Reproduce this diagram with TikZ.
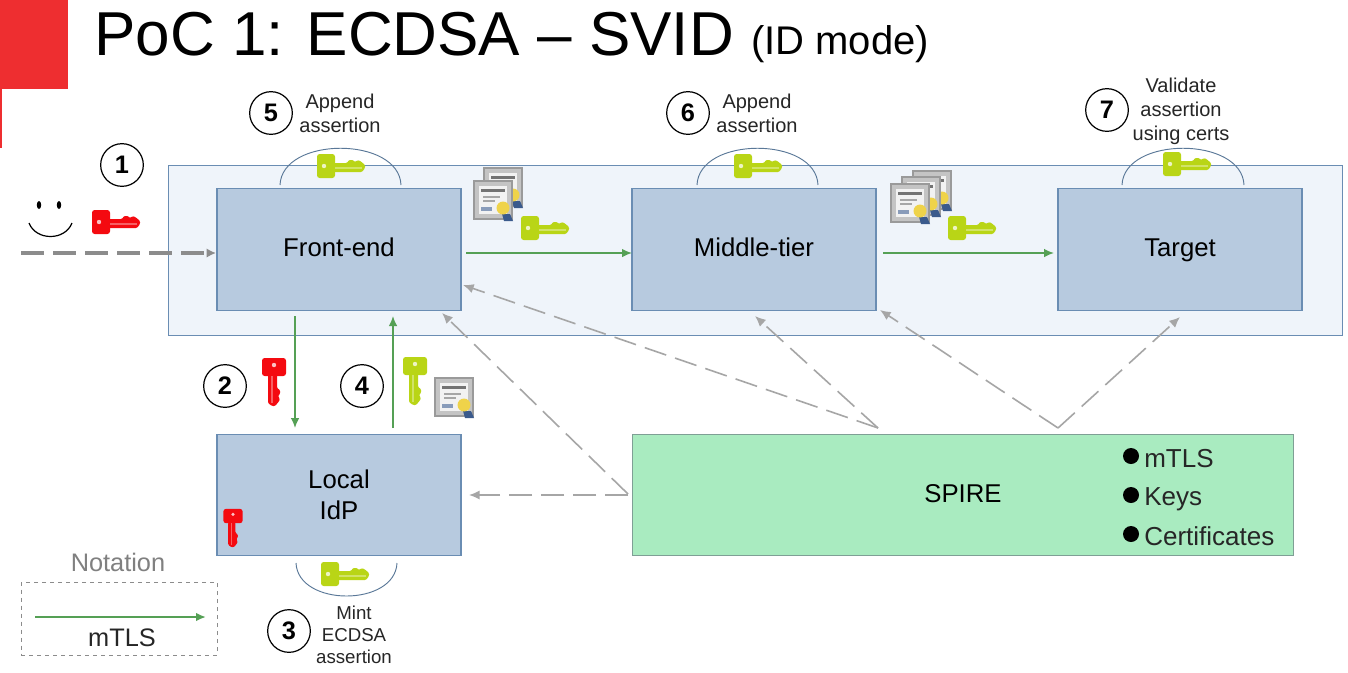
\documentclass[tikz,border=0pt]{standalone}
\usepackage{fontspec}
\setmainfont{Liberation Sans}
\usetikzlibrary{arrows.meta}
\definecolor{boxblue}{HTML}{B7CADF}
\definecolor{boxline}{HTML}{6A8DB3}
\definecolor{outerfill}{HTML}{EFF4FA}
\definecolor{spirefill}{HTML}{A9EBC0}
\definecolor{spireline}{HTML}{7F9F95}
\definecolor{mtls}{HTML}{55A055}
\definecolor{dashgray}{HTML}{A6A6A6}
\definecolor{keygreen}{HTML}{B9D516}
\definecolor{keyred}{HTML}{F40A10}
\definecolor{corner}{HTML}{EE2E30}
\definecolor{certframe}{HTML}{9A9A9A}
\definecolor{certmat}{HTML}{C4C4C4}
\definecolor{certpage}{HTML}{F2F2F2}
\definecolor{certseal}{HTML}{EFD34A}
\definecolor{certrib}{HTML}{3A5A8C}
\tikzset{
  x=.75pt,y=-.75pt,
  proc/.style={draw=boxline,fill=boxblue,line width=.8pt,minimum width=183pt,minimum height=91pt,inner sep=0pt,align=center,font=\fontsize{19.3}{23}\selectfont},
  stepnum/.style={circle,draw=black,line width=.9pt,fill=white,minimum size=32pt,inner sep=0pt,font=\fontsize{19}{20}\selectfont\bfseries},
  small/.style={align=center,inner sep=0pt,font=\fontsize{15}{18}\selectfont,text=black!85},
  green arrow/.style={draw=mtls,line width=1.2pt,-{Latex[length=7.5pt,width=6.5pt]}},
  gray arrow/.style={draw=dashgray,line width=1.2pt,dash pattern=on 17pt off 7pt,-{Latex[length=8pt,width=7pt]}},
  arcline/.style={draw=boxline!85!black,line width=.7pt},
  pics/keyshape/.style={code={
    \fill[#1,rounded corners=2] (-24,-12) rectangle (-6,12);
    \fill[#1,rounded corners=.8] (-7,-3) -- (6,-3) -- (8,-6) -- (12,-6) -- (14,-4) -- (17,-6) -- (20,-4.5) -- (24,-1) -- (24,2) -- (21,6) -- (-7,6) -- cycle;
    \fill[white,opacity=.75] (-17,0) circle (2.2);
    \fill[white,opacity=.35] (-6,1) rectangle (21,3);
  }},
  pics/certshape/.style={code={
    \fill[certframe] (-20,-20) rectangle (20,20);
    \fill[certmat] (-18,-18) rectangle (18,18);
    \fill[certpage] (-14,-14) rectangle (14,14);
    \fill[black!55] (-12,-11) rectangle (12,-8);
    \fill[black!35] (-10,-4) rectangle (7,-2.5);
    \fill[black!35] (-10,0) rectangle (2,1.5);
    \fill[certrib!60] (-12,7) rectangle (-1,11);
    \fill[certrib] (9,14) -- (17,14) -- (20,21) -- (11,21) -- cycle;
    \fill[certseal] (10,8) circle (6.5);
  }}
}
\begin{document}
\begin{tikzpicture}
\useasboundingbox (0,0) rectangle (1348,672);
\fill[white] (0,0) rectangle (1348,672);
% corner marks
\fill[corner] (0,0) rectangle (68,89);
\fill[corner] (0,89) rectangle (2,148);
% title
\node[anchor=base west,inner sep=0pt] (title) at (94,55) {\fontsize{46.5}{50}\selectfont PoC 1: ECDSA – SVID};
\node[anchor=base west,inner sep=0pt] (titlesub) at (751,54) {\fontsize{30}{33}\selectfont (ID mode)};
% containers
\node[draw=boxline,fill=outerfill,line width=.8pt,minimum width=880.5pt,minimum height=127.5pt,inner sep=0pt,anchor=north west] (outer) at (168,165) {};
\node[proc,text height=14pt,text depth=4pt] (front) at (339,249.5) {Front-end};
\node[proc,text height=14pt,text depth=4pt] (middle) at (754,249.5) {Middle-tier};
\node[proc,text height=14pt,text depth=4pt] (target) at (1180,249.5) {Target};
\node[proc] (idp) at (339,495) {Local\\IdP};
\node[draw=spireline,fill=spirefill,line width=.8pt,minimum width=495.75pt,minimum height=90.75pt,inner sep=0pt,anchor=north west] (spire) at (632,434) {};
\node[font=\fontsize{19.3}{23}\selectfont,inner sep=0pt] (spirelabel) at (963,494) {SPIRE};
% bullets
\foreach \nm/\yy/\bl/\tx in {a/456/467/mTLS,b/495/505/Keys,c/534/545/Certificates}{
  \fill (1131,\yy) circle (8);
  \node[anchor=base west,inner sep=0pt,font=\fontsize{19.5}{22}\selectfont,text=black!85] (bul\nm) at (1144,\bl) {\tx};
}
% arcs
\coordinate (a1l) at (280,185); \coordinate (a1r) at (401,185);
\coordinate (a2l) at (697,185); \coordinate (a2r) at (818,185);
\coordinate (a3l) at (1122,185); \coordinate (a3r) at (1244,185);
\coordinate (a4l) at (296,563); \coordinate (a4r) at (397,563);
\draw[arcline] (a1l) .. controls (282,136) and (399,136) .. (a1r);
\draw[arcline] (a2l) .. controls (699,136) and (816,136) .. (a2r);
\draw[arcline] (a3l) .. controls (1124,136) and (1242,136) .. (a3r);
\draw[arcline] (a4l) .. controls (298,607) and (395,607) .. (a4r);
% keys
\path (341,166) pic {keyshape=keygreen};
\path (758,166) pic {keyshape=keygreen};
\path (1187,164) pic {keyshape=keygreen};
\path (345,574) pic {keyshape=keygreen};
\path (545,228) pic {keyshape=keygreen};
\path (972,228) pic {keyshape=keygreen};
\path (116,222) pic {keyshape=keyred};
\path (274,382) pic[rotate=-90] {keyshape=keyred};
\path (415,381) pic[rotate=-90] {keyshape=keygreen};
\path (233,528) pic[rotate=-90,scale=.8] {keyshape=keyred};
% certificates
\path (503,187) pic {certshape};
\path (493,200) pic {certshape};
\path (932,190) pic {certshape};
\path (921,196) pic {certshape};
\path (910,203) pic {certshape};
\path (454,397) pic {certshape};
% smiley
\fill[black] (39,205) ellipse (2.2 and 4);
\fill[black] (59,205) ellipse (2.2 and 4);
\draw[line width=.9pt] (29,223) .. controls (36,241) and (65,241) .. (72,223);
% connectors
\coordinate (userstart) at (21,253);
\coordinate (fwest) at (216,253);
\coordinate (feast) at (466,253);
\coordinate (mwest) at (632,253);
\coordinate (meast) at (883,253);
\coordinate (twest) at (1054,253);
\draw[draw=black!45,line width=2.6pt,dash pattern=on 17pt off 7pt,-{Latex[length=7pt,width=7pt]}] (userstart) -- (fwest);
\draw[green arrow] (feast) -- (mwest);
\draw[green arrow] (meast) -- (twest);
\coordinate (d1) at (295,316); \coordinate (d2) at (295,428);
\coordinate (u1) at (393,428); \coordinate (u2) at (393,316);
\draw[green arrow] (d1) -- (d2);
\draw[green arrow] (u1) -- (u2);
\coordinate (s1) at (878,428);
\coordinate (s2) at (1058,428);
\coordinate (s3) at (628,494);
\coordinate (s4) at (628,495);
\coordinate (t1) at (463,285);
\coordinate (t2) at (755,316);
\coordinate (t3) at (880,310);
\coordinate (t4) at (1180,317);
\coordinate (t5) at (442,313);
\coordinate (t6) at (469,495);
\draw[gray arrow] (s1) -- (t1);
\draw[gray arrow] (s1) -- (t2);
\draw[gray arrow] (s2) -- (t3);
\draw[gray arrow] (s2) -- (t4);
\draw[gray arrow] (s3) -- (t5);
\draw[gray arrow] (s4) -- (t6);
% step numbers
\node[stepnum] (n1) at (122,165) {1};
\node[stepnum] (n5) at (271,113) {5};
\node[stepnum] (n6) at (688,113) {6};
\node[stepnum] (n7) at (1107,110) {7};
\node[stepnum] (n2) at (225,386) {2};
\node[stepnum] (n4) at (362,386) {4};
\node[stepnum] (n3) at (289,631) {3};
% captions
\node[small] (c5) at (340,113) {Append\\assertion};
\node[small] (c6) at (757,113) {Append\\assertion};
\node[small] (c7) at (1181,111) {Validate\\assertion\\using certs};
\node[small,font=\fontsize{14}{16.5}\selectfont] (c3) at (354,635) {Mint\\ECDSA\\assertion};
% notation
\node[font=\fontsize{19}{20}\selectfont,text=black!50,inner sep=0pt] (nottitle) at (118,562) {Notation};
\node[draw=black!45,dashed,line width=.6pt,minimum width=147pt,minimum height=54.5pt,inner sep=0pt,anchor=north west] (notbox) at (21,582) {};
\coordinate (nl) at (35,617); \coordinate (nr) at (206,617);
\draw[green arrow,line width=1.8pt] (nl) -- (nr);
\node[font=\fontsize{19}{20}\selectfont,text=black!85,inner sep=0pt] (notlabel) at (122,638) {mTLS};
\end{tikzpicture}
\end{document}
